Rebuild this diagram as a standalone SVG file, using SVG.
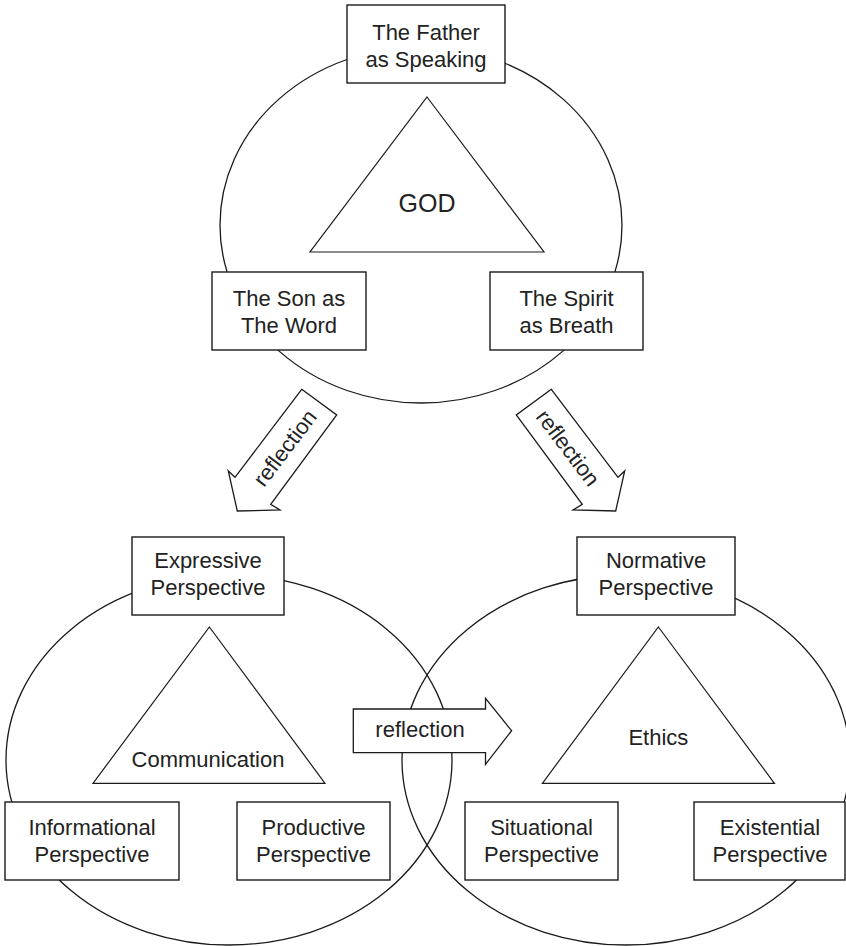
<svg xmlns="http://www.w3.org/2000/svg" width="846" height="946" viewBox="0 0 846 946">
<style>
.ln{fill:none;stroke:#1a1a1a;stroke-width:1.3}
.bx{fill:#fff;stroke:#1a1a1a;stroke-width:1.4}
.tri{fill:#fff;stroke:#1a1a1a;stroke-width:1.2}
.ar{fill:#fff;stroke:#1a1a1a;stroke-width:1.3;stroke-linejoin:miter}
text{font-family:"Liberation Sans",Arial,Helvetica,sans-serif;font-size:22px;fill:#222;text-anchor:middle}
.big{font-size:25px}
</style>
<rect width="846" height="946" fill="#fff"/>
<g id="circles">
<ellipse id="god-circle" class="ln" cx="421" cy="225" rx="201" ry="178"/>
<ellipse id="communication-circle" class="ln" cx="229" cy="760" rx="223" ry="185"/>
<ellipse id="ethics-circle" class="ln" cx="626" cy="760" rx="224" ry="185"/>
</g>
<g id="god">
<polygon class="tri" points="427,97 544,252 310,252"/>
<text class="big" x="427" y="212">GOD</text>
</g>
<g id="communication">
<polygon class="tri" points="209.4,627 325,783.3 93,783.3"/>
<text x="208" y="767">Communication</text>
</g>
<g id="ethics">
<polygon class="tri" points="658.4,627 774.4,783.3 542.4,783.3"/>
<text x="658.4" y="745">Ethics</text>
</g>
<g id="father">
<rect class="bx" x="347" y="5" width="158" height="78"/>
<text x="426" y="40">The Father</text>
<text x="426" y="67">as Speaking</text>
</g>
<g id="son">
<rect class="bx" x="212" y="272" width="154" height="78"/>
<text x="289" y="306">The Son as</text>
<text x="289" y="333">The Word</text>
</g>
<g id="spirit">
<rect class="bx" x="490" y="272" width="153" height="78"/>
<text x="566.5" y="306">The Spirit</text>
<text x="566.5" y="333">as Breath</text>
</g>
<g id="expressive">
<rect class="bx" x="132" y="537" width="152" height="78"/>
<text x="208" y="568">Expressive</text>
<text x="208" y="595">Perspective</text>
</g>
<g id="normative">
<rect class="bx" x="577" y="537" width="158" height="78"/>
<text x="656" y="568">Normative</text>
<text x="656" y="595">Perspective</text>
</g>
<g id="informational">
<rect class="bx" x="5" y="802" width="174" height="78"/>
<text x="92" y="835">Informational</text>
<text x="92" y="862">Perspective</text>
</g>
<g id="productive">
<rect class="bx" x="237" y="802" width="153" height="78"/>
<text x="313.5" y="835">Productive</text>
<text x="313.5" y="862">Perspective</text>
</g>
<g id="situational">
<rect class="bx" x="465" y="802" width="153" height="78"/>
<text x="541.5" y="835">Situational</text>
<text x="541.5" y="862">Perspective</text>
</g>
<g id="existential">
<rect class="bx" x="694" y="802" width="151" height="78"/>
<text x="770" y="835">Existential</text>
<text x="770" y="862">Perspective</text>
</g>
<g id="connectors">
<g id="reflection-left">
<polygon class="ar" points="301.7,389.3 336.7,415 270.7,504.3 280,510 237.3,511 228.3,471 235,477.3"/>
<text transform="translate(285,448) rotate(-52.85)" dy="7.5">reflection</text>
</g>
<g id="reflection-right">
<polygon class="ar" points="551.3,389.3 516.3,415 582.3,504.3 573,510 615.7,511 624.7,471 618,477.3"/>
<text transform="translate(568,448) rotate(52.85)" dy="7.5">reflection</text>
</g>
<g id="reflection-middle">
<polygon class="ar" points="353.3,709 485.5,709 485.5,698.3 511.6,730.7 485.5,764.3 485.5,752.7 353.3,752.7"/>
<text x="420" y="737.3">reflection</text>
</g>
</g>
</svg>
